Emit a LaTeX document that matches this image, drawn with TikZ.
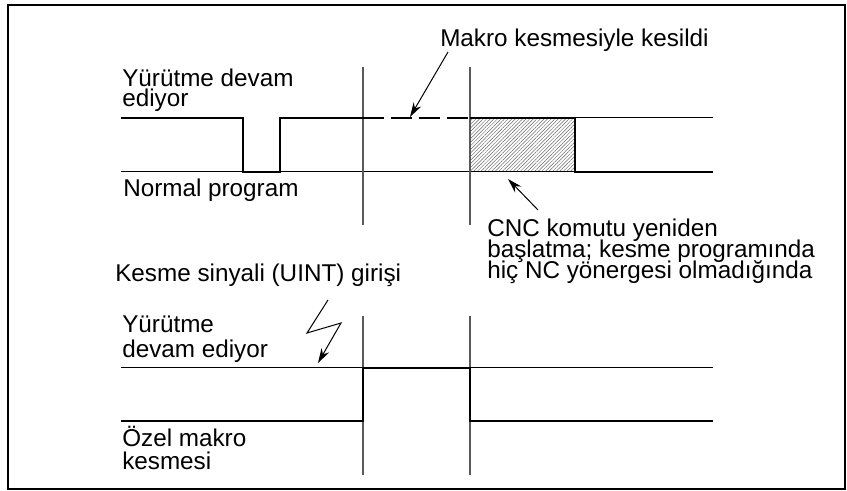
\documentclass[tikz,border=0pt]{standalone}
\usepackage{fontspec}
\setmainfont{Liberation Sans}
\usetikzlibrary{arrows.meta,patterns.meta}
\newcommand{\twolines}[3]{\vtop{\baselineskip=#1\lineskiplimit=-30pt\hbox{#2}\hbox{#3}}}
\newcommand{\threelines}[4]{\vtop{\baselineskip=#1\lineskiplimit=-30pt\hbox{#2}\hbox{#3}\hbox{#4}}}
\begin{document}
\begin{tikzpicture}[x=0.75pt,y=-0.75pt,
  lbl/.style={anchor=base west,inner sep=0pt,font=\fontsize{18.2}{15}\selectfont},
  thin/.style={line width=0.75pt,black},
  grid/.style={line width=0.8pt,black!65},
  sig/.style={line width=2.1pt,black,line join=miter},
  dsh/.style={line width=1.1pt,black,dash pattern=on 15.75pt off 5.25pt},
  arr/.style={line width=0.75pt,-{Stealth[length=11pt,width=6.5pt]}},
  frm/.style={line width=1.6pt,black}]
\useasboundingbox (0,0) rectangle (847,491);
\draw[frm] (8,5) rectangle (845,489);

% ---------- top diagram ----------
\coordinate (a0) at (121,118);
\coordinate (a1) at (243,118);
\coordinate (a2) at (243,172);
\coordinate (a3) at (280,172);
\coordinate (a4) at (280,118);
\coordinate (a5) at (363,118);
\coordinate (a6) at (470,118);
\coordinate (a7) at (575,118);
\coordinate (a8) at (575,172);
\coordinate (a9) at (713,172);
\coordinate (ahr) at (713,118);
\coordinate (al0) at (121,172);

\fill[pattern={Lines[angle=45,distance=1.9pt,line width=0.35pt]},pattern color=black!60] (a6) rectangle (a8);
\draw[thin] (al0) -- (a9);
\draw[thin] (a7) -- (ahr);
\draw[grid] (363,67) coordinate (v1t) -- (363,225) coordinate (v1b);
\draw[grid] (470,67) coordinate (v2t) -- (470,225) coordinate (v2b);
\draw[sig] (a0) -- (a1) -- (a2) -- (a3) -- (a4) -- (a5);
\draw[dsh] (a5) -- (a6);
\draw[sig] (a6) -- (a7) -- (a8) -- (a9);

\node[lbl] (t1) at (122,87) {\twolines{15pt}{Yürütme devam}{ediyor}};
\node[lbl] (t2) at (123,197) {Normal program};
\node[lbl] (t3) at (440,47) {Makro kesmesiyle kesildi};
\coordinate (m1) at (448,52);
\coordinate (m2) at (410,117);
\draw[arr] (m1) -- (m2);

\node[lbl] (t4) at (487,237) {\threelines{15.4pt}{CNC komutu yeniden}{başlatma; kesme programında}{hiç NC yönergesi olmadığında}};
\coordinate (c1) at (538,210);
\coordinate (c2) at (508,179);
\draw[arr] (c1) -- (c2);

% ---------- bottom diagram ----------
\coordinate (b0) at (121,421);
\coordinate (b1) at (363,421);
\coordinate (b2) at (363,368);
\coordinate (b3) at (470,368);
\coordinate (b4) at (470,421);
\coordinate (b5) at (713,421);
\coordinate (bh0) at (121,368);
\coordinate (bh1) at (713,368);

\draw[thin] (bh0) -- (bh1);
\draw[grid] (363,316) coordinate (w1t) -- (363,475) coordinate (w1b);
\draw[grid] (470,316) coordinate (w2t) -- (470,475) coordinate (w2b);
\draw[sig] (b0) -- (b1) -- (b2) -- (b3) -- (b4) -- (b5);

\node[lbl] (k1) at (115,282) {Kesme sinyali (UINT) girişi};
\node[lbl] (k2) at (122,333) {\twolines{18.75pt}{Yürütme}{devam ediyor}};
\node[lbl] (k3) at (122,447) {\twolines{17.25pt}{Özel makro}{kesmesi}};

\coordinate (z0) at (328,300);
\coordinate (z1) at (307,333);
\coordinate (z2) at (341,323);
\coordinate (z3) at (318,363);
\draw[arr,line join=miter] (z0) -- (z1) -- (z2) -- (z3);
\end{tikzpicture}
\end{document}
